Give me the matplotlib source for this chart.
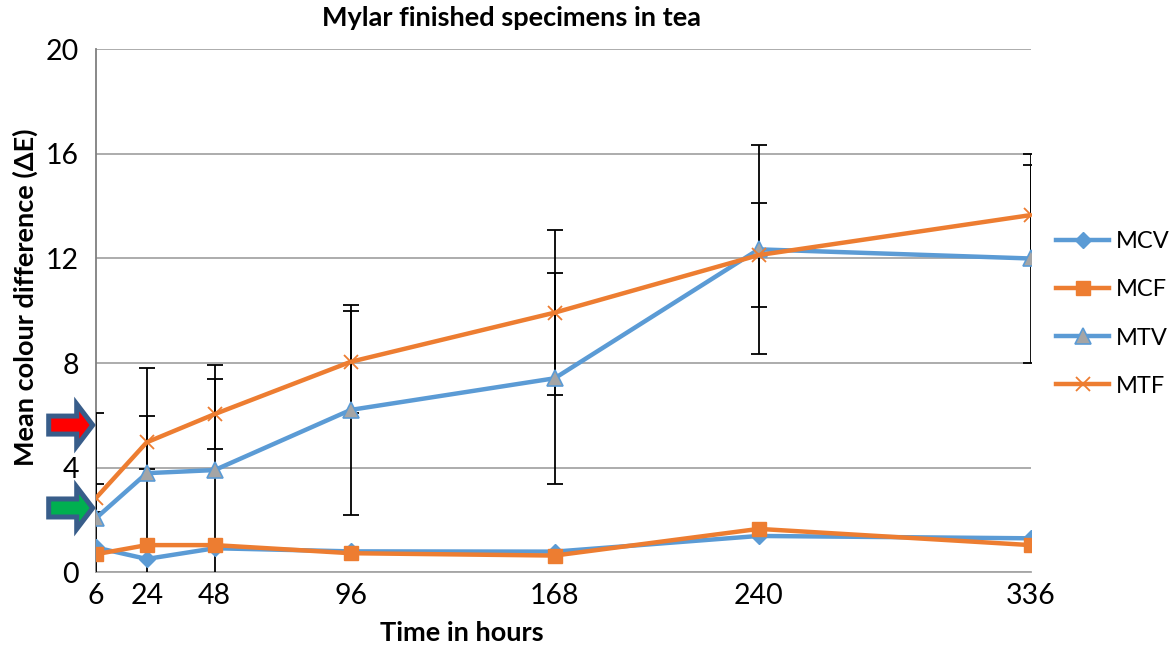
import matplotlib
matplotlib.use("Agg")
import matplotlib.pyplot as plt
import matplotlib.transforms as mtransforms
from matplotlib.patches import Polygon

# ---------------- data ----------------
hours = [6, 24, 48, 96, 168, 240, 336]
hour_labels = ["6", "24", "48", "96", "168", "240", "336"]
MCV = [0.95, 0.51, 0.92, 0.80, 0.79, 1.39, 1.30]
MCF = [0.69, 1.04, 1.04, 0.73, 0.64, 1.66, 1.04]
MTV = [2.06, 3.79, 3.91, 6.21, 7.42, 12.35, 12.00]
MTF = [2.83, 4.97, 6.05, 8.05, 9.93, 12.13, 13.66]
MTV_err = [4.02, 4.01, 4.02, 4.00, 4.03, 4.00, 4.00]
MTF_err = [0.54, 1.02, 1.33, 1.96, 3.16, 2.00, 1.92]
y_ticks = [0, 4, 8, 12, 16, 20]
arrow_levels = [5.63, 2.46]
arrow_fills = ["#FF0000", "#00B050"]

BLUE = "#5B9BD5"
ORANGE = "#ED7D31"
GREY = "#A5A5A5"

plt.rcParams["font.family"] = ["Lato", "DejaVu Sans"]

fig = plt.figure(figsize=(11.74, 6.48), dpi=100)
ax = fig.add_axes([95.7 / 1174, 1 - 572.3 / 648, 935 / 1174, 523 / 648])

ax.errorbar(hours, MTV, yerr=MTV_err, fmt="none", ecolor="black",
            elinewidth=1.3, capsize=5.5, capthick=1.3, zorder=3)
ax.errorbar(hours, MTF, yerr=MTF_err, fmt="none", ecolor="black",
            elinewidth=1.3, capsize=5.5, capthick=1.3, zorder=3)

ax.plot(hours, MCV, color=BLUE, lw=3.2, marker="D", ms=8,
        mfc=BLUE, mec=BLUE, label="MCV", zorder=4)
ax.plot(hours, MCF, color=ORANGE, lw=3.2, marker="s", ms=10,
        mfc=ORANGE, mec=ORANGE, label="MCF", zorder=4)
ax.plot(hours, MTV, color=BLUE, lw=3.2, marker="^", ms=11,
        mfc=GREY, mec=BLUE, mew=1.2, label="MTV", zorder=4)
ax.plot(hours, MTF, color=ORANGE, lw=3.2, marker="x", ms=10,
        mec=ORANGE, mew=1.3, label="MTF", zorder=4)

ax.set_xlim(hours[0], hours[-1])
ax.set_ylim(0, 20)
ax.set_xticks(hours)
ax.set_xticklabels(hour_labels)
ax.set_yticks(y_ticks)
ax.tick_params(axis="both", length=0, labelsize=20.5)
ax.tick_params(axis="y", pad=12)
ax.tick_params(axis="x", pad=8)
ax.yaxis.grid(True, color="#A6A6A6", lw=1.3)
ax.set_axisbelow(True)
for s in ["top", "right"]:
    ax.spines[s].set_visible(False)
ax.spines["left"].set_color("#7F7F7F")
ax.spines["left"].set_linewidth(1.3)
ax.spines["bottom"].set_color("#A6A6A6")
ax.spines["bottom"].set_linewidth(1.3)

ax.set_ylabel("Mean colour difference (ΔE)", fontsize=19.5, fontweight="bold", va="center")
ax.yaxis.set_label_coords(-0.0756, 0.525)
ax.set_xlabel("Time in hours", fontsize=19.5, fontweight="bold", va="center")
ax.xaxis.set_label_coords((462 - 95.7) / 935, -61 / 523)

fig.text(511 / 1174, 1 - 18 / 648, "Mylar finished specimens in tea",
         fontsize=19.5, fontweight="bold", ha="center", va="center")

leg = ax.legend(loc="center left", bbox_to_anchor=(1056 / 1174, 1 - 314 / 648),
                bbox_transform=fig.transFigure, frameon=False, fontsize=17,
                handlelength=2.25, handletextpad=0.3, labelspacing=1.15,
                borderaxespad=0, borderpad=0)

# block arrows pointing at the y axis
verts = [(-47, -9), (-19, -9), (-19, -21), (-3, 0), (-19, 21), (-19, 9), (-47, 9)]
for level, fill in zip(arrow_levels, arrow_fills):
    tr = mtransforms.Affine2D() + mtransforms.ScaledTranslation(hours[0], level, ax.transData)
    poly = Polygon(verts, closed=True, facecolor=fill, edgecolor="#385D8A",
                   lw=3.6, joinstyle="miter", transform=tr, clip_on=False, zorder=6)
    fig.add_artist(poly)

fig.savefig("out.png", dpi=100)
